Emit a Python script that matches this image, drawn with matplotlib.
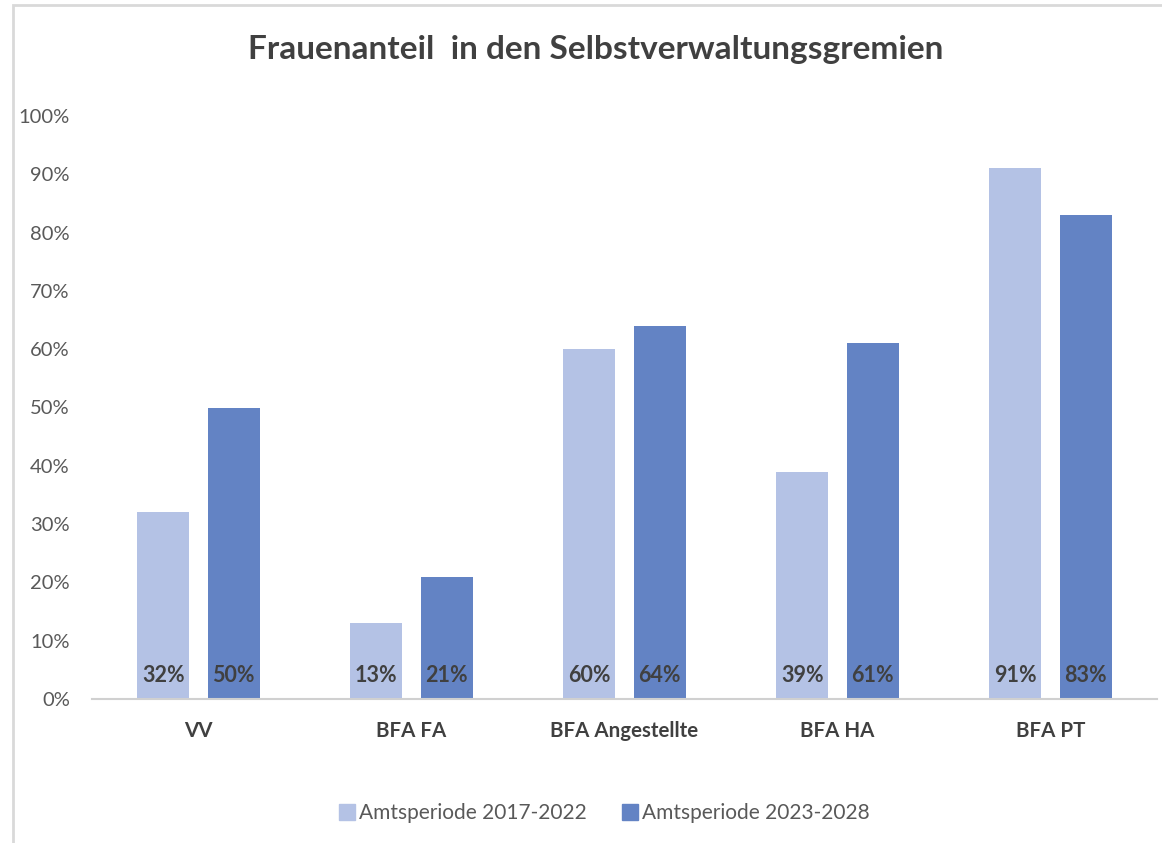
import matplotlib
matplotlib.use("Agg")
import matplotlib.pyplot as plt
from matplotlib.patches import Rectangle
from matplotlib.lines import Line2D
import numpy as np

categories = ["VV", "BFA FA", "BFA Angestellte", "BFA HA", "BFA PT"]
series_names = ["Amtsperiode 2017-2022", "Amtsperiode 2023-2028"]
values_2017 = [32, 13, 60, 39, 91]
values_2023 = [50, 21, 64, 61, 83]
yticks = [0, 10, 20, 30, 40, 50, 60, 70, 80, 90, 100]
title = "Frauenanteil  in den Selbstverwaltungsgremien"

c_light = "#B4C2E5"
c_dark = "#6383C4"
txt = "#404040"
tick_c = "#595959"

plt.rcParams['font.family'] = ['Lato', 'DejaVu Sans']

fig = plt.figure(figsize=(11.62, 8.43), dpi=100)
fig.patch.set_facecolor("white")
ax = fig.add_axes([92/1162, 1-699/843, 1065/1162, (699-116)/843])

x = np.arange(len(categories))
w = 0.245
off = 0.165
ax.bar(x - off, values_2017, w, color=c_light, label=series_names[0])
ax.bar(x + off, values_2023, w, color=c_dark, label=series_names[1])

for xi, v in zip(x - off, values_2017):
    ax.text(xi, 4.1, f"{v}%", ha="center", va="center", fontsize=15.5, fontweight="bold", color=txt)
for xi, v in zip(x + off, values_2023):
    ax.text(xi, 4.1, f"{v}%", ha="center", va="center", fontsize=15.5, fontweight="bold", color=txt)

ax.set_xlim(-0.5, 4.5)
ax.set_ylim(0, 100)
ax.set_yticks(yticks)
ax.set_yticklabels([f"{t}%" for t in yticks], fontsize=14.5, color=tick_c)
ax.set_xticks(x)
ax.set_xticklabels(categories, fontsize=14.8, fontweight="bold", color=txt)
ax.tick_params(axis="y", length=0, pad=16)
ax.tick_params(axis="x", length=0, pad=16)
for s in ["top", "right", "left"]:
    ax.spines[s].set_visible(False)
ax.spines["bottom"].set_color("#D0D0D0")
ax.spines["bottom"].set_linewidth(1.5)

fig.text(596/1162, 1-50/843, title, ha="center", va="center", fontsize=24, fontweight="bold", color=txt)

handles = [Line2D([0], [0], marker="s", linestyle="none", markersize=11, color=c_light),
           Line2D([0], [0], marker="s", linestyle="none", markersize=11, color=c_dark)]
fig.legend(handles, series_names, loc="center", bbox_to_anchor=(603/1162, 1-813/843),
           ncol=2, frameon=False, fontsize=15, labelcolor=tick_c, handletextpad=0.05,
           columnspacing=1.6, handlelength=1.0)

fig.add_artist(Rectangle((13/1162, -0.1), 1.2, 1 - 5/843 + 0.1, transform=fig.transFigure,
                         fill=False, edgecolor="#D9D9D9", linewidth=2, clip_on=False))

fig.savefig("out.png", dpi=100)
